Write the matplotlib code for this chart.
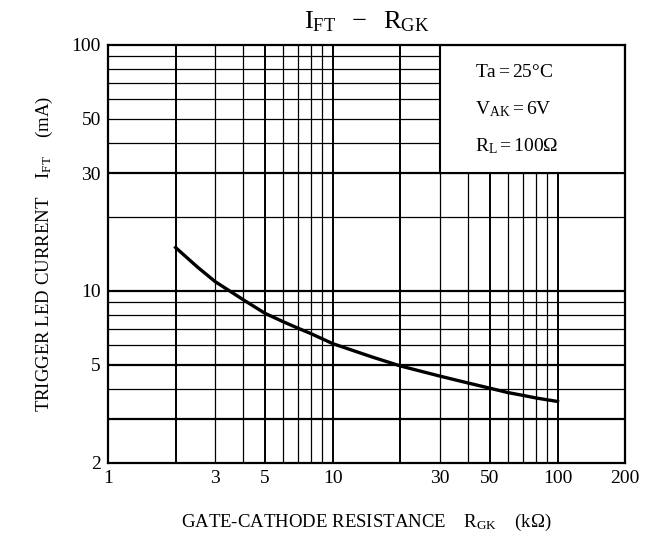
import numpy as np
import matplotlib
matplotlib.use("Agg")
import matplotlib.pyplot as plt
from matplotlib.patches import Rectangle

plt.rcParams['font.family'] = ['Liberation Serif', 'DejaVu Serif']
plt.rcParams['mathtext.fontset'] = 'custom'
plt.rcParams['mathtext.rm'] = 'Liberation Serif'
plt.rcParams['mathtext.it'] = 'Liberation Serif:italic'

# curve
r_gk = [2, 2.5, 3, 4, 5, 6, 7, 8, 10, 15, 20, 30, 40, 50, 60, 70, 80, 100]
i_ft = [15.0, 12.5, 10.9, 9.2, 8.1, 7.5, 7.05, 6.7, 6.1, 5.38, 4.95, 4.5, 4.22,
        4.02, 3.86, 3.76, 3.67, 3.55]

x_ticks = [1, 3, 5, 10, 30, 50, 100, 200]
y_ticks = [2, 5, 10, 30, 50, 100]
x_grid = [2, 3, 4, 5, 6, 7, 8, 9, 10, 20, 30, 40, 50, 60, 70, 80, 90, 100]
y_grid = [3, 4, 5, 6, 7, 8, 9, 10, 20, 30, 40, 50, 60, 70, 80, 90]
bold_x = [2, 5, 10, 20, 50, 100]
bold_y = [3, 5, 10, 30]

conditions = [r'$\mathrm{Ta = 25°C}$', r'$\mathrm{V_{AK} = 6V}$', r'$\mathrm{R_L = 100\Omega}$']

fig = plt.figure(figsize=(6.54, 5.40), dpi=100)
ax = fig.add_axes([0.165, 0.143, 0.791, 0.774])
ax.set_xscale('log')
ax.set_yscale('log')
ax.set_xlim(1, 200)
ax.set_ylim(2, 100)

for xv in x_grid:
    ax.axvline(xv, color='black', lw=1.4 if xv in bold_x else 0.9, zorder=1)
for yv in y_grid:
    ax.axhline(yv, color='black', lw=1.6 if yv in bold_y else 0.9, zorder=1)

# conditions box covers the grid in the upper right corner
ax.add_patch(Rectangle((30, 30), 170, 70, facecolor='white', edgecolor='black',
                       lw=1.5, zorder=2))
for i, t in enumerate(conditions):
    ax.text(0.71, 0.933 - i * 0.088, t, transform=ax.transAxes, fontsize=14,
            ha='left', va='center', zorder=3)

ax.plot(r_gk, i_ft, color='black', lw=2.4, zorder=4)

ax.set_xticks(x_ticks)
ax.set_xticklabels([str(v) for v in x_ticks])
ax.set_yticks(y_ticks)
ax.set_yticklabels([str(v) for v in y_ticks])
ax.minorticks_off()
ax.tick_params(length=0, labelsize=14, pad=5)
for s in ax.spines.values():
    s.set_linewidth(1.6)

ax.set_title(r'$\mathrm{I_{FT}\ \ -\ \ R_{GK}}$', fontsize=19, pad=12)
ax.set_xlabel(r'GATE-CATHODE RESISTANCE    $\mathrm{R_{GK}}$    (k$\Omega$)',
              fontsize=13.5, labelpad=18)
ax.set_ylabel(r'TRIGGER LED CURRENT    $\mathrm{I_{FT}}$    (mA)', fontsize=13.5,
              labelpad=12)

fig.savefig('out.png', dpi=100)
